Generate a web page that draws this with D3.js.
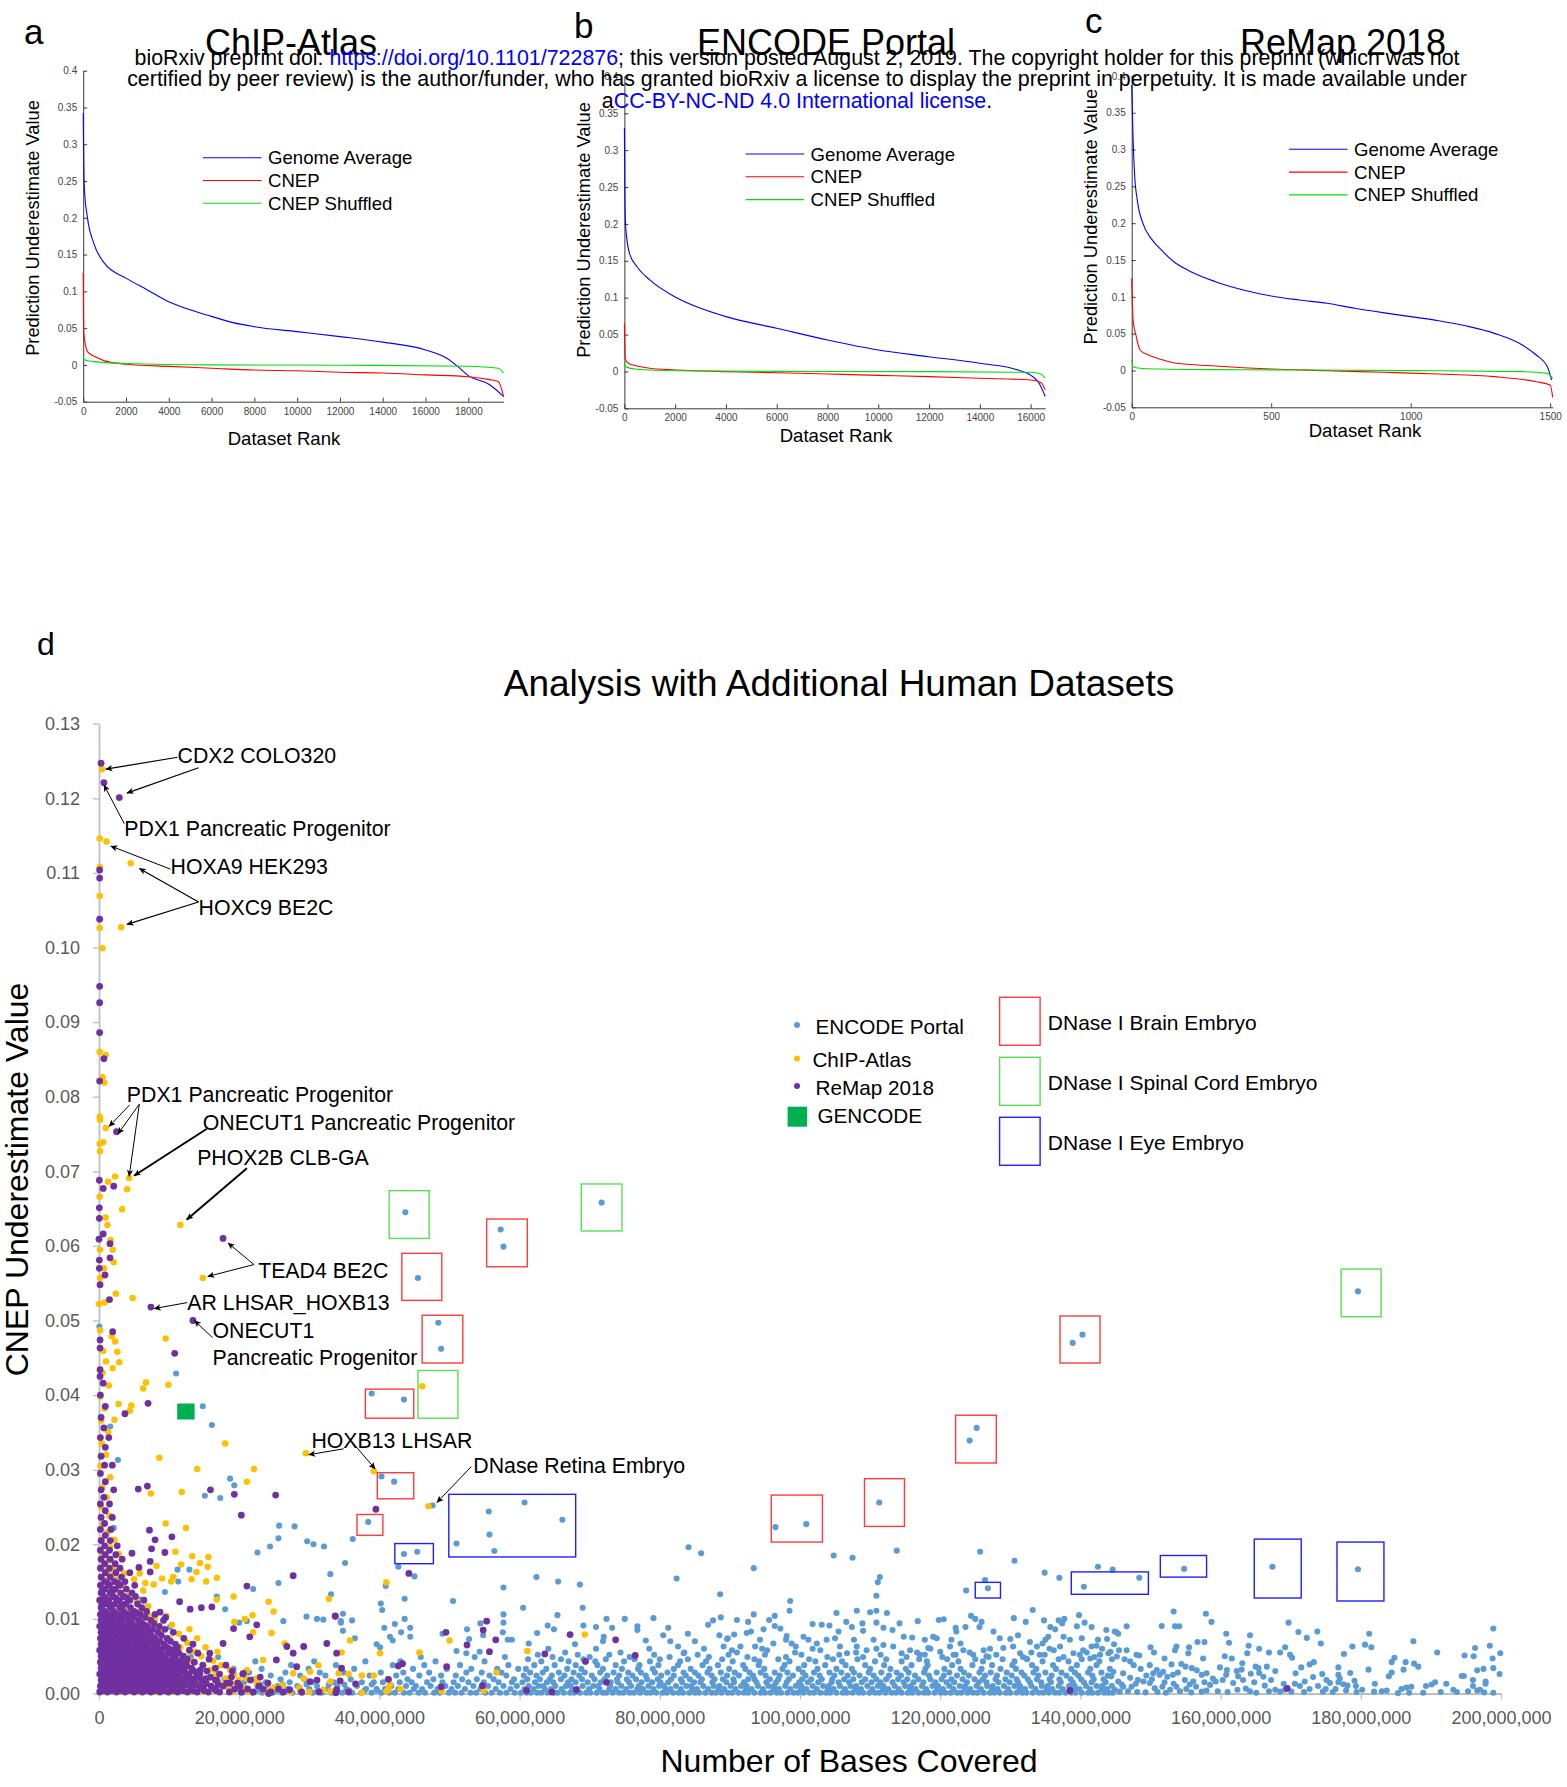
<!DOCTYPE html>
<html>
<head>
<meta charset="utf-8">
<script src="https://cdn.jsdelivr.net/npm/d3@7"></script>
<style>
  body { margin: 0; background: #fff; }
  svg { display: block; font-family: 'Liberation Sans', Arial, Helvetica, sans-serif; }
</style>
</head>
<body>
<div id="chart"></div>
<script>
/* ---------- panels a-c: [dataset rank, prediction underestimate value] ---------- */
var chipGenome = [[0,0.342],[50,0.242],[200,0.2],[500,0.165],[1000,0.138],[2000,0.118],[3000,0.102],[4000,0.086],[5000,0.075],[6000,0.066],[7000,0.0575],[8000,0.052],[10000,0.0453],[12000,0.0385],[14000,0.031],[16000,0.0204],[17000,0.009],[17500,-0.002],[18000,-0.0145],[19000,-0.027],[19650,-0.043]];
var chipCnep = [[0,0.125],[30,0.043],[200,0.018],[500,0.012],[1000,0.0055],[2000,0.001],[4000,-0.002],[6000,-0.0045],[8000,-0.007],[10000,-0.008],[12000,-0.01],[14000,-0.011],[16000,-0.0135],[18000,-0.016],[19000,-0.02],[19400,-0.0225],[19650,-0.043]];
var chipShuffled = [[0,0.0115],[50,0.007],[500,0.0045],[2000,0.002],[6000,0.0],[12000,-0.0004],[18000,-0.0018],[19400,-0.0045],[19650,-0.011]];

var encGenome = [[0,0.33],[20,0.2325],[50,0.196],[200,0.16],[500,0.142],[1000,0.124],[2000,0.101],[3000,0.0856],[4000,0.0743],[6000,0.0585],[8000,0.0426],[10000,0.029],[12000,0.02],[14000,0.011],[15500,0.002],[16000,-0.005],[16300,-0.014],[16575,-0.034]];
var encCnep = [[0,0.065],[30,0.0178],[150,0.011],[500,0.0074],[1000,0.0042],[2000,0.002],[4000,-0.0003],[6000,-0.0017],[8000,-0.0035],[10000,-0.0053],[12000,-0.007],[14000,-0.0093],[16000,-0.0116],[16400,-0.015],[16575,-0.025]];
var encShuffled = [[0,0.0133],[30,0.0065],[500,0.003],[2000,0.001],[6000,0.0],[12000,-0.0003],[16000,-0.0012],[16400,-0.0035],[16575,-0.0093]];

var remapGenome = [[0,0.3875],[5,0.313],[10,0.268],[20,0.2314],[40,0.2],[70,0.179],[100,0.166],[150,0.148],[200,0.1364],[300,0.1206],[400,0.1093],[500,0.1011],[600,0.0957],[700,0.0912],[800,0.0844],[900,0.0785],[1000,0.0731],[1100,0.0676],[1200,0.0604],[1300,0.0504],[1400,0.0346],[1450,0.021],[1490,0.0052],[1505,-0.013]];
var remapCnep = [[0,0.125],[5,0.0686],[15,0.0482],[30,0.0278],[60,0.021],[100,0.0156],[150,0.0106],[200,0.0084],[300,0.0061],[400,0.0038],[500,0.002],[700,-0.0002],[900,-0.0025],[1100,-0.0048],[1300,-0.0084],[1450,-0.0152],[1500,-0.0197],[1509,-0.0365]];
var remapShuffled = [[0,0.0143],[5,0.0052],[30,0.003],[100,0.002],[300,0.0011],[600,0.0007],[1000,-0.0002],[1400,-0.0016],[1490,-0.0039],[1509,-0.0106]];

var rankMax = [19650, 16575, 1509];
var rankTicks = [d3.range(0, 18001, 2000), d3.range(0, 16001, 2000), [0, 500, 1000, 1500]];
var predTicks = [-0.05, 0, 0.05, 0.1, 0.15, 0.2, 0.25, 0.3, 0.35, 0.4];
var curveNames = ['Genome Average', 'CNEP', 'CNEP Shuffled'];
var panelTitles = ['ChIP-Atlas', 'ENCODE Portal', 'ReMap 2018'];

/* ---------- panel d: [bases covered (millions), CNEP underestimate value x1000] ---------- */
var encodePts = [
[43.7,64.5],[71.7,65.8],[57.3,62.2],[57.7,59.9],[45.5,55.7],[48.4,49.7],[48.8,46.2],[38.9,40.2],[43.5,39.4],[40.3,29.1],[42.1,28.4],[38.4,23.0],
[43.5,18.7],[45.4,19.0],[51.0,20.1],[55.6,24.4],[55.7,21.3],[56.4,19.1],[60.7,25.6],[66.1,23.3],[47.6,25.2],
[96.5,22.3],[100.9,22.7],[111.3,25.6],[124.2,33.9],[125.2,35.6],[138.9,47.0],[140.3,48.1],[179.6,53.9],[126.8,14.1],[140.5,14.3],
[144.6,16.6],[148.4,15.5],[154.8,16.7],[167.4,17.0],[179.6,16.65],
[14.8,38.5],[16.1,36.0],[18.7,28.8],[19.3,27.9],[17.3,26.2],[15.1,26.5],[25.7,22.5],[27.9,22.4],[25.6,20.8],[24.4,19.7],[22.6,18.9],
[29.7,20.4],[30.6,20.0],[32.1,19.7],[35.1,17.5],[22.0,14.0],[25.6,14.8],[11.2,16.6],[12.9,16.6],[11.3,15.0],[9.4,13.6],[5.8,12.6],
[16.8,13.0],[18.0,11.3],[20.0,9.5],[21.1,9.7],[26.3,9.7],[29.6,10.3],[31.1,10.0],[32.0,9.9],[34.5,9.7],[34.8,8.4],[0.05,49.2],[11.0,42.9],
[2.7,31.3],[1.6,35.8],[2.1,22.2],[10.1,8.9],
[33.0,16.0],[33.1,13.3],[36.2,20.7],[42.7,17.0],[45.0,15.7],[40.9,14.4],[43.6,12.7],[40.2,12.05],[40.4,11.2],[50.5,12.4],[34.8,10.7],
[34.5,9.5],[36.1,9.8],[40.7,8.8],[42.2,9.3],[43.6,10.0],[44.4,8.8],[43.1,8.2],[44.4,7.6],[41.5,7.6],[41.9,7.1],[39.6,6.6],[40.1,6.2],
[36.5,7.4],[49.0,8.0],[52.5,8.6],[52.8,7.3],[51.0,5.7],[52.4,5.4],[54.4,9.4],[54.8,7.8],[54.3,5.6],[57.7,10.6],[57.7,9.5],[57.6,8.2],
[58.3,7.2],[58.9,7.2],[60.5,11.5],[62.4,15.6],[65.5,15.0],[68.6,14.6],[69.0,11.5],[65.4,10.5],[57.7,14.2],[61.3,6.7],[62.5,8.1],
[64.0,9.1],[64.9,8.6],[67.9,6.6],[69.1,9.1],[70.9,8.9],[72.4,10.0],[73.2,8.8],[72.0,7.6],[71.9,7.0],[75.0,10.0],[76.8,9.0],[76.8,8.5],
[78.0,7.1],[79.1,10.1],[81.2,8.8],[80.5,7.8],[82.4,15.4],[84.1,19.6],[85.9,18.8],[88.6,13.3],[86.9,9.2],[87.6,9.8],[88.5,7.8],[89.7,7.4],
[84.0,8.0],[85.0,7.0],[82.6,6.3],[81.5,7.0],[83.4,5.4],
[104.8,18.5],[107.5,18.2],[113.8,19.15],[93.4,16.8],[111.4,15.6],[111.1,14.9],[110.9,13.1],[125.7,19.0],[126.4,15.2],[123.7,13.8],
[130.6,17.8],[134.9,16.2],[137.0,15.5],[142.5,17.0],[98.6,12.4],[98.5,11.1],[93.4,10.6],[88.7,10.2],[105.2,10.8],[108.1,11.1],
[110.0,10.9],[110.9,11.1],[112.4,10.8],[114.2,9.4],[116.8,9.7],[119.8,9.85],[120.5,9.95],[124.4,10.4],[125.0,10.0],[125.9,9.6],
[125.6,8.9],[122.2,8.8],[123.6,8.9],[122.3,8.3],[130.5,10.1],[133.2,11.2],[132.2,9.6],[134.8,9.8],[139.8,10.5],[137.7,10.0],
[136.9,9.8],[135.7,8.9],[139.5,9.0],[140.6,9.5],[141.6,8.9],[143.7,8.5],[145.1,8.25],[142.5,7.2],[143.8,7.3],[142.3,6.4],[137.4,9.4],
[136.4,8.6],[135.4,7.6],[135.0,7.2],[91.0,9.85],[92.6,9.6],[93.0,8.3],[92.4,8.1],[94.8,8.6],[95.6,9.85],[96.4,10.4],[96.4,9.05],
[97.2,8.7],[98.1,7.7],[98.0,7.2],[98.8,6.7],[99.4,6.3],[101.8,9.3],[103.1,9.2],[104.2,9.1],[105.5,8.3],[106.6,9.6],[107.4,8.9],
[107.7,7.2],[108.9,9.4],[109.0,8.4],[110.9,9.5],[111.9,8.8],[113.2,8.5],[114.8,7.6],[116.0,7.5],[117.8,7.2],[119.0,7.6],[119.5,7.4],
[121.6,7.2],[122.9,6.7],[127.6,8.3],[128.5,7.4],[129.0,6.1],[130.0,7.3],[131.1,7.8],[132.8,6.9],[134.6,6.7],[133.8,6.3],[137.6,7.6],
[138.5,7.2],[140.2,7.4],[141.6,6.3],[89.6,7.3],[90.6,7.9],[89.1,6.3],[90.3,5.8],[91.5,6.3],[94.3,7.2],[93.6,6.3],[95.3,5.8],[96.2,6.7],
[100.5,7.6],[101.2,7.2],[102.4,6.7],[102.9,5.8],[103.8,7.2],[105.0,7.4],[105.7,6.3],[106.7,5.4],[108.1,6.3],[109.5,5.8],[110.5,7.2],
[111.9,6.5],[113.3,6.3],[114.5,5.4],[115.7,5.8],[117.1,5.2],[118.3,6.1],[120.0,5.6],[121.4,6.3],[121.9,5.2],[123.3,5.8],[124.7,5.2],
[126.2,5.8],[126.6,5.0],[130.4,6.3],[131.4,5.4],[132.3,4.7],[134.2,5.2],[136.2,5.8],[137.1,6.3],[139.0,5.4],[140.4,5.8],[141.4,4.7],
[142.8,5.2],[144.0,5.4],
[153.3,11.0],[157.9,10.7],[158.7,9.6],[151.6,9.05],[153.5,9.0],[154.1,9.0],[146.6,9.0],[144.9,8.3],[145.4,8.0],[160.8,8.0],[164.2,7.8],
[169.7,9.5],[171.1,8.25],[172.3,7.45],[173.8,8.3],[174.3,6.7],[181.2,8.0],[180.6,6.55],[181.5,6.2],[187.5,7.0],[190.9,5.5],[198.9,8.7],
[198.4,6.4],[196.3,6.1],[199.9,5.4],[194.8,5.1],[196.1,5.0],[198.8,4.7],[184.8,4.8],[184.4,4.2],[186.4,4.2],[187.6,4.0],[188.2,3.6],
[186.1,3.2],[184.4,2.8],[184.0,2.3],[197.5,3.3],[196.6,3.1],[198.9,3.4],[199.8,2.6],[194.4,2.35],[194.7,2.35],[197.8,1.6],[197.8,1.3],
[196.0,1.8],[196.0,1.0],[197.0,0.5],[196.6,0.4],[198.9,0.1],[192.2,1.3],[193.7,0.2],[193.2,0.5],[190.6,1.5],[190.1,1.2],[189.3,1.0],
[188.9,0.1],[187.2,0.9],[186.5,0.8],[185.8,0.6],[185.3,0.05],[183.7,0.4],[182.0,1.3],[181.9,0.25],[181.1,3.2],[178.8,6.3],[177.6,5.3],
[178.5,2.75],[176.8,3.5],[176.8,2.5],[176.8,1.5],[177.5,1.25],[179.1,1.7],[179.3,1.0],[180.2,0.5],[179.4,0.2],[178.1,1.05],[176.4,0.6],
[175.6,1.4],[175.1,1.8],[174.5,2.6],[173.2,2.2],[172.7,3.9],[173.3,4.2],[171.5,3.5],[170.7,2.7],[170.2,4.8],[169.9,5.2],[169.2,6.2],
[168.5,5.5],[166.9,5.5],[164.0,6.4],[163.8,5.4],[165.5,6.0],[161.2,6.8],[160.6,5.0],[161.6,4.7],[163.1,4.05],[165.0,3.6],[165.4,3.4],
[166.6,3.6],[167.8,3.0],[164.3,2.65],[165.5,2.75],[166.1,2.25],[163.0,3.2],[162.3,3.0],[160.9,3.15],[159.9,3.5],[160.8,2.5],[160.3,1.8],
[161.8,1.4],[163.2,1.8],[163.6,0.65],[165.1,0.1],[166.3,1.05],[167.8,0.5],[168.5,0.25],[170.1,0.25],[170.6,1.3],[171.3,1.0],[172.7,0.6],
[173.9,1.0],[174.6,0.25],[159.3,1.6],[158.5,1.15],[158.0,2.7],[157.3,2.5],[156.6,3.1],[157.5,4.7],[156.7,6.9],[157.7,6.9],[155.5,6.2],
[155.4,5.4],[153.7,6.3],[153.5,5.8],[152.0,4.7],[150.0,6.2],[150.5,5.5],[148.0,5.2],[148.4,5.1],[146.6,5.8],[145.5,5.8],[144.8,6.6],
[144.3,5.6],[145.2,4.95],[146.3,4.6],[147.1,4.3],[147.6,3.8],[148.6,3.3],[149.9,3.8],[150.9,3.15],[151.8,2.9],[153.0,3.9],[154.4,3.95],
[155.0,3.6],[155.9,3.4],[153.9,2.8],[153.2,2.5],[152.4,2.25],[151.3,2.5],[150.4,2.7],[149.4,2.4],[149.0,1.6],[148.2,1.8],[147.1,2.1],
[146.1,2.7],[144.7,2.9],[144.4,2.3],[145.4,1.6],[146.1,0.9],[147.3,0.9],[144.9,0.5],[145.6,0.25],[149.9,1.4],[150.6,0.7],[151.7,0.9],
[152.8,0.5],[153.7,0.9],[155.1,0.6],[156.5,0.9],[157.3,0.25],[154.9,1.8],[156.1,1.6],
[144.6,0.1],[146.8,0.3],[148.1,0.2],[149.3,0.15],[151.0,0.2],[152.2,0.1],[154.2,0.3],[155.8,0.15],[158.0,0.4],[159.6,0.3],[161.0,0.2],
[162.4,0.5],[164.2,0.3],[166.9,0.3],[169.2,0.5],[171.9,0.2],[176.0,0.2],[177.9,0.4],[183.0,0.3],[186.9,0.1],[191.4,0.2],[195.3,0.3],
[197.6,0.15],[145.9,1.2],[147.9,1.3],[150.2,1.9],[152.0,1.5],[153.3,1.3],[155.6,1.2],[157.7,1.5],[158.9,2.0],[162.5,2.3],[164.8,1.5],
[167.2,1.8],[169.0,1.3],[172.0,1.6],[175.0,0.6],[177.0,2.0]
];
// ENCODE Portal, the dense band along the axis: [value x1000, [millions of bases...]]
var encodeBand = [
[0.1,[20.4,21.9,23.3,24.8,26.1,27.6,29.0,30.5,31.8,33.2,34.7,36.1,37.4,38.9,40.3,41.4,42.2,43.5,44.3,45.6,46.5,47.8,48.6,49.9,50.8,51.7,53.0,53.8,55.1,56.0,57.2,58.1,59.3,
 60.2,61.0,61.6,62.5,63.1,64.0,64.9,65.4,66.3,67.2,67.8,68.6,69.5,70.1,71.0,71.9,72.4,73.3,74.2,74.8,75.7,76.3,77.2,78.1,78.7,79.5,80.4,81.0,81.9,82.7,83.3,84.2,85.0,85.6,
 86.5,87.4,88.0,88.8,89.7,90.3,91.2,92.0,92.6,93.5,94.4,95.0,95.8,96.7,97.3,98.2,99.1,99.7,100.5,101.4,102.0,102.9,103.7,104.3,105.2,106.1,106.7,107.5,108.4,109.0,109.9,
 110.7,111.3,112.2,113.1,113.7,114.5,115.4,116.0,116.9,117.7,118.3,119.2,120.1,120.7,121.5,122.4,123.0,123.9,124.7,125.3,126.2,127.1,127.7,128.5,129.4,130.0,130.9,131.7,
 132.3,133.2,134.1,134.7,135.5,136.4,137.0,137.9,138.7,139.3,140.2,141.1,141.7,142.5,143.4,144.0]],
[0.4,[21.0,22.6,25.3,27.0,28.7,31.2,33.8,35.7,37.9,39.7]],
[0.6,[10.9,13.4,16.2,18.8,21.1,24.0,26.9,30.0,32.6,35.3,38.1,39.6,40.8,42.7,44.9,46.1,48.3,50.3,52.2,54.4,56.6,58.7,
 60.7,62.0,63.6,64.5,66.0,67.5,68.2,69.9,71.4,72.8,73.7,75.2,76.8,77.6,79.1,80.8,81.5,83.0,84.6,85.3,86.9,88.4,89.2,90.8,92.3,93.1,94.7,96.2,97.0,98.6,100.1,100.9,102.4,
 104.0,104.8,106.4,107.9,108.7,110.3,111.8,112.6,114.1,115.7,116.5,118.0,119.6,120.4,121.9,123.5,124.3,125.8,127.4,128.2,129.7,131.3,132.1,133.6,135.2,136.0,137.5,139.1,
 139.9,141.4,143.0,143.8]],
[1.0,[22.6,25.5,28.3,31.1,34.0,36.8,41.7,43.8,45.2,47.3,49.4,51.2,53.4,55.5,57.7,59.6,
 61.3,62.7,63.4,65.1,66.6,67.3,69.0,70.5,71.2,72.9,74.5,75.9,77.0,78.4,79.9,80.6,82.3,83.8,84.5,86.2,87.7,88.5,90.1,91.6,92.4,94.0,95.5,96.3,97.9,99.4,100.2,101.8,103.3,
 104.1,105.7,107.2,108.0,109.6,111.1,111.9,113.5,115.0,115.8,117.4,118.9,119.7,121.3,122.8,123.6,125.2,126.7,127.5,129.1,130.6,131.4,133.0,134.5,135.3,136.9,138.4,139.2,
 140.8,142.3,143.1,144.5]],
[1.2,[20.2,23.0,26.2,29.6,32.8,35.0,38.9]],
[1.5,[20.7,23.8,27.2,30.4,33.5,37.5,39.2,40.5,42.9,44.6,46.8,49.0,50.6,52.7,54.9,57.0,58.9,
 60.4,62.2,63.9,64.8,66.9,68.0,69.7,71.6,73.0,74.0,75.6,77.4,78.9,80.1,81.2,83.2,84.9,85.8,87.5,89.5,90.6,92.0,93.8,95.2,96.6,98.1,99.9,101.1,102.6,104.5,105.5,107.0,
 108.8,110.2,111.5,113.2,114.8,116.2,117.6,119.3,120.9,122.0,123.8,125.5,126.6,128.3,129.9,131.1,132.8,134.4,135.8,137.2,138.9,140.5,141.6,143.6]],
[1.9,[12.0,15.1,17.9,22.0,25.9,29.3,35.9,41.2,44.0,47.7,51.8,53.9,56.3,59.2,
 61.1,62.9,64.3,65.9,67.4,68.9,70.7,72.1,73.9,75.3,76.6,78.2,79.7,81.6,83.0,84.3,86.0,87.8,89.0,90.5,92.6,93.5,95.7,96.9,98.4,100.3,101.6,103.1,104.6,106.3,107.6,109.3,
 110.9,112.3,114.0,115.3,116.9,118.6,120.2,121.6,123.2,124.9,126.1,127.9,129.3,130.9,132.5,133.8,135.6,137.0,138.6,140.1,141.9,143.3]],
[2.4,[24.5,28.7,32.3,38.6,42.4,45.7,48.8,50.9,55.7,58.1,
 60.6,62.4,64.6,66.4,68.5,70.3,72.5,74.2,76.1,78.0,80.2,82.0,83.7,85.5,87.4,89.6,91.3,93.3,95.1,97.1,99.0,100.8,102.8,104.9,106.8,108.5,110.5,112.7,114.4,116.4,118.4,
 120.5,122.4,124.1,126.4,128.1,130.2,132.0,134.0,135.9,138.0,139.7,141.7,143.9]],
[2.8,[21.4,26.6,31.5,34.9,40.2,43.4,47.1,52.4,54.6,57.4,
 61.5,63.3,65.6,67.7,69.3,71.5,73.4,75.5,77.3,79.3,81.1,83.4,85.0,86.8,88.7,90.7,92.8,94.4,96.4,98.2,100.4,102.0,104.2,105.9,107.7,109.8,111.6,113.8,115.5,117.7,119.5,
 121.3,123.4,125.6,127.2,129.5,131.6,133.3,135.0,137.3,139.2,141.1,143.0]],
[3.3,[11.6,14.8,19.2,23.2,29.9,36.4,44.8,49.6,53.1,56.8,59.8,
 60.9,63.8,66.8,68.8,71.9,74.6,76.9,79.0,82.0,84.4,87.1,89.9,92.2,94.9,97.5,99.8,102.5,105.2,107.4,110.0,112.9,115.1,117.9,120.6,122.9,125.9,128.6,130.8,133.7,136.5,
 138.7,141.4,144.2]],
[3.8,[27.4,33.8,41.9,46.4,51.5,58.4,62.1,65.0,68.0,71.1,73.7,77.1,79.8,82.6,86.1,88.3,91.9,94.1,97.8,100.6,103.6,106.5,109.3,112.0,115.9,118.2,121.7,124.6,127.4,130.3,
 133.1,136.1,139.5,142.3]],
[4.3,[22.3,30.7,38.0,43.0,48.0,55.0,63.1,67.0,70.8,74.9,78.6,82.9,86.6,90.4,94.2,98.5,102.2,106.0,110.7,114.5,118.1,122.6,126.1,130.6,134.6,138.3,142.7]],
[4.6,[61.2,65.9,69.1,72.3,76.4,80.0,84.0,88.9,93.5,96.9,101.3,104.7,108.2,112.3,117.0,121.0,125.0,128.9,132.4,136.9,140.2,144.5]],
[4.9,[13.1,17.0,45.9,53.6,57.9,64.7,70.0,75.7,81.4,87.0,92.5,98.0,103.9,109.0,115.2,120.3,126.9,131.8,137.6,142.0]],
[5.2,[62.6,68.3,72.8,79.2,85.4,89.8,95.0,100.2,105.6,111.5,117.8,122.2,128.0,134.9,139.9]],
[5.5,[66.5,74.4,83.5,91.0,99.3,108.0,116.7,124.2,133.0,140.9]],
[6.0,[64.1,70.9,78.5,86.3,94.6,101.8,110.9,118.6,127.1,135.6,143.1]]
];

var chipPts = [
[0.09,114.6],[1.06,114.2],[4.52,111.3],[0.44,123.9],[3.15,102.7],[0.1,110.8],[0.1,106.9],[0.1,102.6],[0.5,99.9],[0.1,86.0],[0.96,85.6],
[0.5,82.6],[0.76,81.9],[0.1,77.3],[0.15,76.9],[0.96,75.8],[0.1,73.7],[0.6,73.9],[0.15,72.7],
[4.3,69.1],[4.0,67.6],[11.6,62.8],[14.8,55.7],[3.3,64.9],[2.3,69.3],[1.3,68.6],[0.1,66.6],[0.95,63.8],[1.2,62.8],[1.67,60.8],[1.95,59.5],
[0.15,59.5],[2.1,57.8],[0.7,57.0],[0.15,55.7],[2.4,53.6],[4.8,53.0],[0.8,52.4],[0.0,52.2],[0.15,48.7],[1.8,47.9],[2.3,47.2],[0.6,45.9],
[2.6,45.8],[2.9,44.4],[1.95,43.6],[1.0,44.5],[9.5,47.6],[9.9,41.4],[6.7,41.7],[6.3,40.9],
[2.8,38.8],[4.6,38.6],[4.4,37.9],[2.2,36.7],[18.0,33.5],[8.6,31.6],[14.0,30.1],[22.1,30.1],[21.1,28.4],[11.8,27.0],[7.4,26.8],[29.5,32.2],
[39.2,29.8],[47.0,25.1],[46.1,41.2],[12.4,22.2],[9.5,22.8],[10.9,19.0],[13.3,18.4],[14.4,17.5],[15.6,18.3],[15.5,17.0],[13.9,16.3],
[16.8,15.5],[15.3,15.0],[13.2,15.3],[8.2,17.1],[5.8,16.1],[5.0,15.3],[6.6,14.8],[7.8,14.6],[9.0,15.4],[10.6,15.6],[11.7,17.3],[10.3,15.0],
[19.2,13.0],[24.2,12.3],[24.9,11.0],[21.9,10.5],[20.8,10.0],[19.3,9.6],[16.8,12.6],[32.8,12.7],
[41.0,14.9],[35.8,7.1],[34.6,5.5],[40.1,5.4],[45.7,5.5],[50.0,7.1],[61.1,5.7],[69.3,7.9],[56.7,2.8],[54.9,0.4],[48.9,0.3],[43.0,0.6],
[41.5,1.2],[41.0,0.3],[39.2,2.4],[37.5,2.4],[35.6,2.6],[37.5,0.1],[41.3,0.5],[33.0,0.3],
[22.0,8.2],[24.6,8.1],[26.5,6.7],[23.4,4.5],[27.7,2.7],[29.2,2.0],[32.0,0.5],[33.0,1.6],[34.2,2.7],[31.3,3.8],[30.1,2.9],[26.1,1.1],
[24.4,0.5],[22.5,2.0],[21.1,3.1],[19.9,1.8]
];
var chipBand = [
[0.2,[0.6,3.1,5.6,8.0,10.5,13.1,15.0,16.9,19.1,21.4,23.9,27.3,30.0]],[0.8,[1.8,4.3,6.9,9.4,12.0,14.5,16.0,18.4,20.7,25.0,28.6]],
[1.4,[0.4,2.9,5.4,8.5,11.3,13.8,17.1,19.6,22.5]],[2.0,[1.4,3.7,6.1,9.1,12.7,15.6,18.1,21.0]],[2.6,[0.6,2.4,4.8,7.5,10.4,14.2,16.7,19.3]],
[3.2,[1.7,3.9,6.7,9.9,13.3,15.9,18.7]],[3.8,[0.3,2.9,5.5,8.3,11.9,14.9,17.4]],[4.4,[1.2,4.1,6.9,10.7,13.0,16.3]],
[5.0,[0.5,2.5,5.0,8.8,12.3,14.6]],[5.6,[1.8,4.0,7.4,10.2,13.7,16.9]],[6.2,[0.7,3.1,6.0,9.4,11.6,15.2]],[6.8,[1.9,4.7,8.1,12.6]],
[7.4,[0.4,2.8,5.5,10.0,14.0]],[8.0,[1.5,3.9,7.1,11.4]],[8.6,[0.6,2.7,5.0,8.9,12.9]],[9.2,[1.8,4.2,6.6,10.4]],[9.8,[0.3,3.0,5.6,8.0]],
[10.4,[1.4,4.4,7.2,9.6]],[11.0,[0.5,2.5,5.8]],[11.7,[1.7,3.8,7.0]],[12.4,[0.6,2.9,5.4]],[13.1,[1.6,4.1]],[13.8,[0.4,2.5,6.3]],
[14.5,[1.3,3.5]],[15.3,[0.7,2.3]],[16.1,[1.5,3.6]],[16.9,[0.5,2.4]],[17.8,[1.4]],[18.7,[0.6,2.8]],[19.6,[1.6]],[20.6,[0.4,2.2]],
[21.6,[1.2]],[22.7,[0.6]],[23.8,[1.5]],[25.0,[0.3]],[26.3,[1.1]],[27.6,[0.5]],[29.0,[1.6]],[30.5,[0.2]],[32.0,[1.0]],[33.5,[0.4]],
[35.1,[1.3]],[36.6,[0.3]],[38.2,[0.8]],[39.8,[0.2]],[41.3,[1.4]],[43.0,[0.5]]
];

var remapPts = [
[0.29,124.7],[0.7,122.1],[2.9,120.1],[0.09,110.4],[0.09,109.3],[0.09,103.8],[0.09,94.8],[0.09,92.6],[0.09,88.6],[0.7,85.1],[0.09,82.1],
[2.5,75.3],[17.7,61.0],[7.4,51.8],[13.4,50.0],[2.1,68.0],[0.05,68.8],[0.6,67.7],[0.05,65.1],[0.05,63.7],[0.6,61.6],[0.0,60.9],
[1.57,60.3],[1.57,58.4],[0.05,58.1],[0.05,57.0],[0.86,56.1],[0.15,54.8],[1.5,52.8],[1.95,48.5],[0.15,47.4],[0.15,46.3],[0.15,43.4],
[0.15,42.5],[10.8,45.6],
[7.0,38.9],[3.7,37.5],[5.6,27.4],[6.9,27.8],[15.9,27.3],[19.3,26.7],[25.2,26.6],[20.3,23.9],[27.7,15.8],[21.1,14.4],[7.2,21.9],[8.0,20.6],
[10.4,21.0],[9.4,18.9],[7.5,19.4],[4.7,18.8],[7.3,17.7],[5.7,16.9],[7.3,16.3],[11.5,12.3],[13.0,11.3],[14.6,11.5],[16.1,11.6],[9.5,10.2],
[8.7,10.9],[33.7,10.4],
[39.5,24.7],[44.2,16.1],[33.7,10.35],[49.5,8.2],[52.5,6.5],[54.8,8.5],[55.3,9.7],[55.7,5.6],[56.6,7.2],[63.6,5.3],[67.2,7.9],[73.7,7.2],
[76.5,5.1],[69.4,4.3],[72.4,1.5],[68.1,0.5],[64.6,0.2],[61.0,0.4],[54.7,1.05],[48.8,0.9],[49.6,3.6],[43.3,4.0],[42.7,3.7],[41.3,1.9],
[34.6,3.4],[36.6,1.3],[35.6,0.2],[33.8,0.1],[34.4,1.7],[138.5,0.4],[169.5,0.7],
[24.2,0.0],[27.2,0.5],[30.1,1.6],[33.9,0.5],[26.8,6.3],[27.7,5.4],[25.3,4.5],[21.5,7.6],[22.5,9.2],[19.2,8.7],[17.7,6.7],[15.8,5.4],
[14.4,3.1],[16.6,1.8],[18.7,1.4],[20.6,2.7],[28.2,3.6],[29.2,6.3],[32.5,6.7],[33.9,5.4],[31.1,1.8]
];
var remapBand = [
[0.2,[0.1,1.2,2.5,3.7,5.0,6.2,7.4,8.7,9.9,11.2,12.6,14.0,15.6,17.2,18.6,20.3,22.0,24.5,26.3,28.9,31.4]],
[0.4,[0.6,1.8,3.1,4.3,5.6,6.8,8.0,9.3,10.5,11.9,13.4,15.0,16.7]],
[0.6,[0.7,1.9,3.1,4.4,5.6,6.8,8.1,9.3,10.6,11.9,13.3,14.8,16.5,19.4,21.2,23.4,25.6]],
[1.0,[0.2,1.4,2.6,3.9,5.1,6.4,7.6,8.9,10.2,11.5,12.9,14.3,16.0,17.7,20.1,22.8]],
[1.2,[0.9,2.1,3.3,4.6,5.8,7.1,8.3,9.6,10.8,12.2,13.6,15.1,17.0]],
[1.4,[0.8,2.0,3.3,4.5,5.8,7.0,8.3,9.6,10.9,12.2,13.7,15.3,18.2,19.8,24.1]],
[1.8,[0.3,1.5,2.8,4.0,5.3,6.5,7.8,9.0,10.3,11.6,13.0,14.6,16.8,21.6]],
[2.0,[0.4,1.6,2.9,4.1,5.4,6.6,7.9,9.1,10.5,11.9,13.4,15.2]],
[2.2,[0.9,2.1,3.4,4.6,5.9,7.1,8.4,9.7,11.0,12.4,14.0,15.9,18.9,23.0]],
[2.6,[0.1,1.3,2.6,3.8,5.1,6.3,7.6,8.8,10.1,11.4,12.8,14.4,17.2,20.5]],
[2.8,[0.8,2.0,3.2,4.5,5.8,7.0,8.3,9.5,10.8,12.3,13.9]],
[3.0,[0.7,1.9,3.2,4.4,5.7,6.9,8.2,9.5,10.8,12.1,13.5,15.4,19.0]],
[3.4,[0.3,1.5,2.7,4.0,5.2,6.5,7.7,9.0,10.3,11.7,13.2,16.6]],
[3.6,[0.5,1.7,3.0,4.3,5.5,6.8,8.1,9.4,10.8,12.3]],
[3.8,[0.9,2.2,3.4,4.7,5.9,7.2,8.4,9.7,11.0,12.5,14.8,18.1]],
[4.2,[0.2,1.4,2.6,3.9,5.1,6.4,7.7,8.9,10.3,11.8,13.6]],
[4.4,[0.9,2.1,3.4,4.7,5.9,7.2,8.5,9.8,11.3]],
[4.6,[0.8,2.0,3.3,4.5,5.8,7.0,8.3,9.5,10.9,12.6,15.7]],
[5.0,[0.3,1.5,2.7,4.0,5.2,6.5,7.8,9.1,10.5,12.0]],
[5.2,[0.4,1.6,2.9,4.2,5.5,6.8,8.1,9.5,10.9]],
[5.4,[0.9,2.1,3.4,4.6,5.9,7.2,8.5,9.9,11.4,14.1]],
[5.8,[0.1,1.3,2.6,3.8,5.1,6.3,7.6,8.9,10.6,12.9]],
[6.0,[0.8,2.0,3.3,4.6,5.9,7.2,8.6,10.0]],
[6.2,[0.7,1.9,3.1,4.4,5.6,6.9,8.2,9.6,11.2]],
[6.6,[0.3,1.5,2.7,4.0,5.3,6.5,7.9,9.3,10.9,13.4]],
[6.8,[0.5,1.7,3.0,4.3,5.6,7.0,8.4]],
[7.0,[0.9,2.1,3.4,4.6,5.9,7.3,8.7,10.2]],
[7.4,[0.2,1.4,2.6,3.9,5.2,6.6,8.0,9.7,12.1]],
[7.6,[0.9,2.1,3.4,4.7,6.1,7.6]],
[7.8,[0.8,2.0,3.3,4.6,6.0,7.4,8.9]],
[8.2,[0.3,1.5,2.8,4.1,5.4,6.8,8.4,10.6]],
[8.4,[0.4,1.6,2.9,4.3,5.8,7.2]],
[8.6,[0.9,2.1,3.5,4.8,6.2,7.7,9.4]],
[9.0,[0.1,1.3,2.6,4.0,5.4,6.9,8.6]],
[9.2,[0.8,2.0,3.4,4.9,6.4]],
[9.4,[0.7,2.0,3.3,4.7,6.1,7.8]],
[9.8,[0.3,1.5,2.8,4.2,5.7,7.4,9.2]],
[10.0,[0.5,1.7,3.1,4.6]],
[10.2,[0.9,2.2,3.6,5.0,6.6]],[10.6,[0.2,1.4,2.8,4.3,5.9,8.0]],[10.8,[0.9,2.2,3.7,5.3]],[11.0,[0.8,2.1,3.5,5.0,6.8]],
[11.5,[0.3,1.6,3.0,4.5,6.1]],[11.8,[0.4,1.8,3.3]],
[12.0,[0.9,2.3,3.8,5.5]],[12.5,[0.1,1.4,2.9,4.4,6.4]],[12.8,[0.9,2.4,4.0]],[13.0,[0.7,2.0,3.5,5.2]],[13.5,[0.3,1.6,3.1,4.7]],
[13.8,[0.5,1.9]],[14.0,[0.9,2.3,3.9]],
[14.5,[0.2,1.5,3.0,5.1]],[14.8,[1.2,2.7]],[15.0,[0.8,2.2,3.7]],[15.6,[0.3,1.6,3.2]],[16.2,[0.9,2.4,4.4]],[16.8,[0.2,1.5,3.0]],[17.4,[0.8,2.3]],
[18.0,[0.3,1.6,3.3]],[18.6,[0.9,2.4]],[19.2,[0.2,1.5]],[19.8,[0.8,2.6]],[20.5,[0.3,1.6]],[21.2,[0.9]],[22.0,[0.2,1.7]],[22.8,[0.8]],
[23.6,[0.3,1.9]],[24.5,[0.9]],[25.4,[0.2,1.5]],[26.3,[0.7]],[27.3,[0.3,2.1]],[28.4,[0.9]],[29.5,[0.2]],[30.6,[0.8,1.9]],[31.8,[0.3]],
[33.0,[0.9]],[34.3,[0.2,1.4]],[35.6,[0.7]],[37.0,[0.3]],[38.5,[0.9]],[40.0,[0.2]],[41.6,[0.6]]
];

var gencodePt = [12.4, 37.8];
var basesTicks = d3.range(0, 200000001, 20000000);
var valueTicks = d3.range(0, 14).map(function(i) { return i / 100; });

// highlighted DNase I groups: [x from, x to (millions), value from, value to (x1000)]
var brainBoxes = [[55.3,61.1,57.2,63.6],[43.2,48.9,52.7,59.0],[46.1,51.9,44.3,50.7],[38.0,44.9,36.9,40.8],[39.7,44.9,26.1,29.6],[36.8,40.5,21.2,24.0],
  [95.9,103.2,20.3,26.6],[109.2,114.9,22.4,28.8],[122.2,128.0,30.9,37.3],[137.1,142.8,44.3,50.6]];
var spinalBoxes = [[41.4,47.1,61.0,67.4],[68.8,74.6,62.0,68.3],[45.5,51.2,36.9,43.3],[177.2,182.9,50.5,56.9]];
var eyeBoxes = [[42.2,47.7,17.4,20.1],[49.9,68.0,18.3,26.7],[125.0,128.6,12.8,14.9],[138.7,149.7,13.3,16.3],[151.4,158.0,15.6,18.5],
  [164.8,171.5,12.8,20.7],[176.6,183.3,12.4,20.3]];

/* ---------- layout ---------- */
var W = 1567, H = 1787;
var FONT = "'Liberation Sans', Arial, Helvetica, sans-serif";
var curveColors = ['#0000ff', '#ff0000', '#00e000'];

var topLayout = [
  { label: 'a', lx: 24, ly: 44, tx: 291, left: 83.2, right: 503.6, top: 70.7, bottom: 401.7, legX: 203, legY: 157.7, xtX: 284, xtY: 444.5, ytX: 38.5, ytY: 228 },
  { label: 'b', lx: 574, ly: 38, tx: 826, left: 624.4, right: 1045.2, top: 76.4, bottom: 408.3, legX: 745.6, legY: 154, xtX: 836, xtY: 441.5, ytX: 590, ytY: 230 },
  { label: 'c', lx: 1085, ly: 33, tx: 1343, left: 1131.7, right: 1552.7, top: 75.9, bottom: 407.3, legX: 1289, legY: 149.3, xtX: 1365, xtY: 436.5, ytX: 1096.7, ytY: 216.7 }
];
var topSeries = [[chipGenome, chipCnep, chipShuffled], [encGenome, encCnep, encShuffled], [remapGenome, remapCnep, remapShuffled]];

var svg = d3.select('#chart').append('svg')
  .attr('width', W).attr('height', H)
  .style('font-family', FONT);

svg.append('rect').attr('width', W).attr('height', H).attr('fill', '#fff');

/* panels a, b, c */
topLayout.forEach(function(p, i) {
  var x = d3.scaleLinear().domain([0, rankMax[i]]).range([p.left, p.right]);
  var y = d3.scaleLinear().domain([-0.05, 0.4]).range([p.bottom, p.top]);
  var g = svg.append('g');

  var xa = g.append('g').attr('transform', 'translate(0,' + p.bottom + ')')
    .call(d3.axisBottom(x).tickValues(rankTicks[i]).tickSizeInner(-4).tickSizeOuter(0).tickPadding(6)
      .tickFormat(function(d) { return String(d); }));
  var ya = g.append('g').attr('transform', 'translate(' + p.left + ',0)')
    .call(d3.axisLeft(y).tickValues(predTicks).tickSizeInner(-4).tickSizeOuter(0).tickPadding(6)
      .tickFormat(function(d) { return String(+d.toFixed(2)); }));
  [xa, ya].forEach(function(a) {
    a.attr('font-family', FONT).attr('font-size', 10);
    a.select('.domain').attr('stroke', '#3a3a3a');
    a.selectAll('.tick line').attr('stroke', '#3a3a3a');
    a.selectAll('.tick text').attr('fill', '#444');
  });

  var line = d3.line().x(function(d) { return x(d[0]); }).y(function(d) { return y(d[1]); }).curve(d3.curveMonotoneX);
  topSeries[i].forEach(function(s, k) {
    g.append('path').attr('d', line(s)).attr('fill', 'none').attr('stroke', curveColors[k]).attr('stroke-width', 1.1);
  });

  curveNames.forEach(function(n, k) {
    var ly = p.legY + k * 22.8;
    g.append('line').attr('x1', p.legX).attr('x2', p.legX + 58.5).attr('y1', ly).attr('y2', ly)
      .attr('stroke', curveColors[k]).attr('stroke-width', 1.1);
    g.append('text').attr('x', p.legX + 65).attr('y', ly).attr('dy', '0.35em')
      .attr('font-size', 18.6).text(n);
  });

  g.append('text').attr('x', p.xtX).attr('y', p.xtY).attr('text-anchor', 'middle').attr('font-size', 18.6).text('Dataset Rank');
  g.append('text').attr('transform', 'translate(' + p.ytX + ',' + p.ytY + ') rotate(-90)')
    .attr('text-anchor', 'middle').attr('font-size', 18.3).text('Prediction Underestimate Value');
  g.append('text').attr('x', p.tx).attr('y', 55).attr('text-anchor', 'middle').attr('font-size', 36).text(panelTitles[i]);
  g.append('text').attr('x', p.lx).attr('y', p.ly).attr('font-size', 35).text(p.label);
});

/* preprint notice laid over the top row */
var notice = [
  [['bioRxiv preprint doi: ', '#000'], ['https://doi.org/10.1101/722876', '#0000ff'], ['; this version posted August 2, 2019. The copyright holder for this preprint (which was not', '#000']],
  [['certified by peer review) is the author/funder, who has granted bioRxiv a license to display the preprint in perpetuity. It is made available under', '#000']],
  [['a', '#000'], ['CC-BY-NC-ND 4.0 International license', '#0000ff'], ['.', '#000']]
];
notice.forEach(function(parts, i) {
  var t = svg.append('text').attr('x', 797).attr('y', 64.5 + i * 21.6).attr('text-anchor', 'middle').attr('font-size', 21.4);
  parts.forEach(function(pt) { t.append('tspan').attr('fill', pt[1]).text(pt[0]); });
});

/* panel d */
var xd = d3.scaleLinear().domain([0, 2e8]).range([99, 1501]);
var yd = d3.scaleLinear().domain([0, 0.13]).range([1693.5, 723.7]);
var px = function(d) { return xd(d[0] * 1e6); };
var py = function(d) { return yd(d[1] / 1000); };
var flat = function(rows) {
  return rows.reduce(function(acc, r) { return acc.concat(r[1].map(function(v) { return [v, r[0]]; })); }, []);
};

var gd = svg.append('g');
var xAx = gd.append('g').attr('transform', 'translate(0,' + yd(0) + ')')
  .call(d3.axisBottom(xd).tickValues(basesTicks).tickSizeInner(6).tickSizeOuter(0).tickPadding(12).tickFormat(d3.format(',')));
var yAx = gd.append('g').attr('transform', 'translate(' + xd(0) + ',0)')
  .call(d3.axisLeft(yd).tickValues(valueTicks).tickSizeInner(6).tickSizeOuter(0).tickPadding(13).tickFormat(d3.format('.2f')));
[xAx, yAx].forEach(function(a) {
  a.attr('font-family', FONT).attr('font-size', 18);
  a.select('.domain').attr('stroke', '#bfbfbf').attr('stroke-width', 1.8);
  a.selectAll('.tick line').attr('stroke', '#bfbfbf').attr('stroke-width', 1.3);
  a.selectAll('.tick text').attr('fill', '#595959');
});

var series = [
  { pts: encodePts.concat(flat(encodeBand)), color: '#5b9bd5', r: 3.05 },
  { pts: chipPts.concat(flat(chipBand)), color: '#ffc000', r: 3.25 },
  { pts: remapPts.concat(flat(remapBand)), color: '#7030a0', r: 3.4 }
];
series.forEach(function(s) {
  gd.append('g').selectAll('circle').data(s.pts).enter().append('circle')
    .attr('cx', px).attr('cy', py).attr('r', s.r).attr('fill', s.color);
});
gd.append('rect')
  .attr('x', px(gencodePt) - 8.7).attr('y', py(gencodePt) - 8)
  .attr('width', 17.4).attr('height', 16).attr('fill', '#00b050');

[[brainBoxes, '#ff3b3b'], [spinalBoxes, '#55e055'], [eyeBoxes, '#1f1fff']].forEach(function(b) {
  gd.append('g').selectAll('rect').data(b[0]).enter().append('rect')
    .attr('x', function(d) { return xd(d[0] * 1e6); })
    .attr('y', function(d) { return yd(d[3] / 1000); })
    .attr('width', function(d) { return xd(d[1] * 1e6) - xd(d[0] * 1e6); })
    .attr('height', function(d) { return yd(d[2] / 1000) - yd(d[3] / 1000); })
    .attr('fill', 'none').attr('stroke', b[1]).attr('stroke-width', 1.4);
});

/* annotations: label start (baseline) and arrows, in data units */
var notes = [
  { lines: ['CDX2 COLO320'], at: [11.2, 124.7], arrows: [[[11.2, 125.5], [0.96, 123.9]], [[14.2, 124.1], [3.97, 120.7]]], w: 1.2 },
  { lines: ['PDX1 Pancreatic Progenitor'], at: [3.6, 114.9], arrows: [[[3.6, 116.6], [0.7, 121.8]]], w: 1 },
  { lines: ['HOXA9 HEK293'], at: [10.2, 109.8], arrows: [[[10.2, 110.5], [1.67, 113.6]]], w: 1 },
  { lines: ['HOXC9 BE2C'], at: [14.2, 104.3], arrows: [[[14.2, 106.1], [5.75, 110.6]], [[14.2, 106.1], [3.97, 103.1]]], w: 1.2 },
  { lines: ['PDX1 Pancreatic Progenitor'], at: [3.97, 79.3], arrows: [[[4.37, 78.9], [1.43, 76.0]], [[5.75, 79.0], [2.7, 75.0]], [[5.75, 79.0], [4.3, 69.3]]], w: 1 },
  { lines: ['ONECUT1 Pancreatic Progenitor'], at: [14.8, 75.6], arrows: [[[15.4, 75.7], [5.0, 69.4]]], w: 2 },
  { lines: ['PHOX2B CLB-GA'], at: [14.0, 70.9], arrows: [[[21.1, 70.4], [12.5, 63.5]]], w: 2 },
  { lines: ['TEAD4 BE2C'], at: [22.7, 55.7], arrows: [[[22.1, 57.5], [18.4, 60.4]], [[22.1, 57.5], [15.5, 55.9]]], w: 1 },
  { lines: ['AR LHSAR_HOXB13'], at: [12.6, 51.4], arrows: [[[12.6, 52.4], [7.85, 51.6]]], w: 1 },
  { lines: ['ONECUT1', 'Pancreatic Progenitor'], at: [16.2, 47.7], arrows: [[[16.2, 47.7], [13.6, 50.0]]], w: 1 },
  { lines: ['HOXB13 LHSAR'], at: [30.3, 32.9], arrows: [[[34.9, 32.8], [29.9, 32.0]], [[36.2, 33.6], [39.4, 30.1]]], w: 1 },
  { lines: ['DNase Retina Embryo'], at: [53.4, 29.6], arrows: [[[53.1, 30.4], [48.2, 25.6]]], w: 1 }
];

svg.append('defs').append('marker')
  .attr('id', 'arr').attr('viewBox', '0 0 10 10').attr('refX', 9.5).attr('refY', 5)
  .attr('markerWidth', 7).attr('markerHeight', 7).attr('markerUnits', 'userSpaceOnUse').attr('orient', 'auto')
  .append('path').attr('d', 'M0,0.5 L10,5 L0,9.5 L2.5,5 Z').attr('fill', '#000');

var ga = svg.append('g');
notes.forEach(function(n) {
  n.arrows.forEach(function(a) {
    ga.append('line')
      .attr('x1', px(a[0])).attr('y1', py(a[0])).attr('x2', px(a[1])).attr('y2', py(a[1]))
      .attr('stroke', '#000').attr('stroke-width', n.w).attr('marker-end', 'url(#arr)');
  });
  n.lines.forEach(function(l, k) {
    ga.append('text').attr('x', px(n.at)).attr('y', py(n.at) + k * 27.3)
      .attr('font-size', 21.3).attr('fill', '#000').text(l);
  });
});

/* legend */
var lg = svg.append('g');
var dotLegend = [['ENCODE Portal', '#5b9bd5', 1025, 815.5], ['ChIP-Atlas', '#ffc000', 1058.5, 812.4], ['ReMap 2018', '#7030a0', 1086, 815.5]];
dotLegend.forEach(function(d) {
  lg.append('circle').attr('cx', 797).attr('cy', d[2]).attr('r', 3).attr('fill', d[1]);
  lg.append('text').attr('x', d[3]).attr('y', d[2] + 1.5).attr('dy', '0.35em').attr('font-size', 20.7).text(d[0]);
});
lg.append('rect').attr('x', 787.6).attr('y', 1106.7).attr('width', 19.5).attr('height', 20).attr('fill', '#00b050');
lg.append('text').attr('x', 817.4).attr('y', 1116).attr('dy', '0.35em').attr('font-size', 20.7).text('GENCODE');
var boxLegend = [['DNase I Brain Embryo', '#ff3b3b', 997.3], ['DNase I Spinal Cord Embryo', '#55e055', 1057.3], ['DNase I Eye Embryo', '#1f1fff', 1117.3]];
boxLegend.forEach(function(d) {
  lg.append('rect').attr('x', 999.6).attr('y', d[2]).attr('width', 40.5).attr('height', 48)
    .attr('fill', 'none').attr('stroke', d[1]).attr('stroke-width', 1.4);
  lg.append('text').attr('x', 1047.8).attr('y', d[2] + 25).attr('dy', '0.35em').attr('font-size', 21).text(d[0]);
});

/* titles */
svg.append('text').attr('x', 37).attr('y', 655).attr('font-size', 32).text('d');
svg.append('text').attr('x', 839).attr('y', 695.7).attr('text-anchor', 'middle').attr('font-size', 37)
  .text('Analysis with Additional Human Datasets');
svg.append('text').attr('x', 849).attr('y', 1772).attr('text-anchor', 'middle').attr('font-size', 32)
  .text('Number of Bases Covered');
svg.append('text').attr('transform', 'translate(28,1179.5) rotate(-90)').attr('text-anchor', 'middle').attr('font-size', 32)
  .text('CNEP Underestimate Value');
</script>
</body>
</html>
